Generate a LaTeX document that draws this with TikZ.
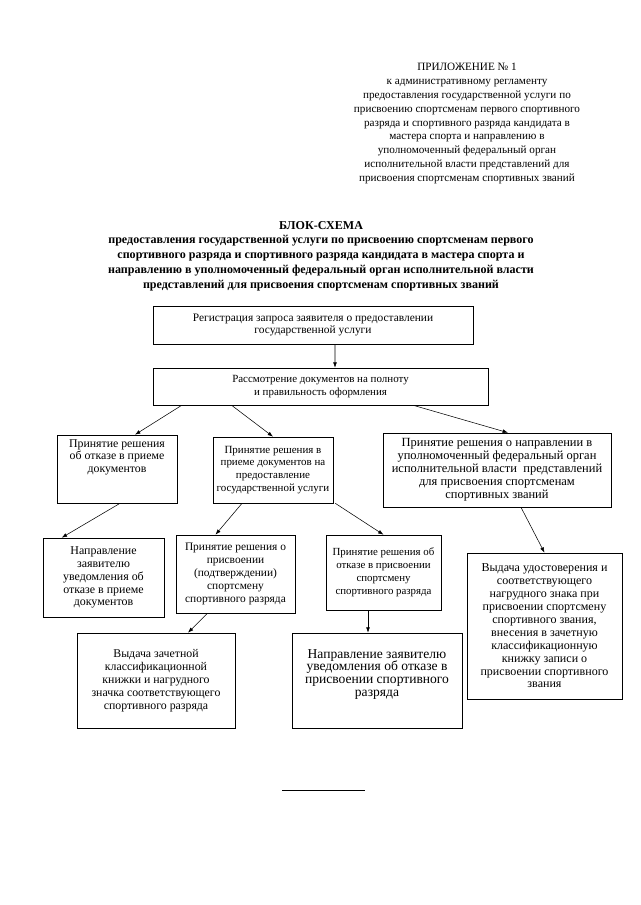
\documentclass[tikz,border=0pt]{standalone}
\usepackage{fontspec}
\setmainfont{Liberation Serif}
\usetikzlibrary{arrows.meta, calc}
\tikzset{%
   % block of the scheme: a plain frame round a fixed-size parbox
   blk/.style={
      draw,
      rectangle,
      inner sep=0pt,
      line width=.6pt
   },
   arr/.style={
      -{Latex[length=5pt,width=3.6pt]},
      line width=.5pt
   },
   hdr/.style={
      align=center,
      inner sep=0pt,
      font=\fontsize{10.4}{12.9}\selectfont
   },
}
% #1 inner position (c or t), #2 font size, #3 width, #4 height, #5 text
\def\bt#1#2#3#4#5{\parbox[c][#4][#1]{#3}{\centering\fontsize{#2}{12}\selectfont #5\par}}

\begin{document}
\begin{tikzpicture}[x=0.9297pt, y=-0.9297pt]
   \useasboundingbox (0,0) rectangle (640,905);
   \node[hdr] (app) at (467,123.5) {ПРИЛОЖЕНИЕ № 1\\к административному регламенту\\
      предоставления государственной услуги по\\присвоению спортсменам первого спортивного\\
      разряда и спортивного разряда кандидата в\\мастера спорта и направлению в\\
      уполномоченный федеральный орган\\исполнительной власти представлений для\\
      присвоения спортсменам спортивных званий};
   \node[hdr, font=\fontsize{11.2}{13.7}\selectfont\bfseries] (title) at (321,256) {БЛОК-СХЕМА\\
      предоставления государственной услуги по присвоению спортсменам первого\\
      спортивного разряда и спортивного разряда кандидата в мастера спорта и\\
      направлению в уполномоченный федеральный орган исполнительной власти\\
      представлений для присвоения спортсменам спортивных званий};

   \node[blk] (reg) at (313,325) {\bt{c}{10.6}{297.5pt}{35.3pt}{Регистрация запроса заявителя о предоставлении\\государственной услуги}};
   \node[blk] (check) at (320.5,386.5) {\bt{c}{10.2}{311.5pt}{34.4pt}{Рассмотрение документов на полноту\\и правильность оформления}};
   \node[blk] (refuse) at (117,469) {\bt{t}{11}{111.6pt}{63.2pt}{\vspace*{4pt}Принятие решения\\об отказе в приеме\\документов}};
   \node[blk] (accept) at (273,470) {\bt{c}{10.2}{111.6pt}{61.4pt}{Принятие решения в\\приеме документов на\\предоставление\\государственной услуги}};
   \node[blk] (direct) at (497,470) {\bt{c}{11.6}{212pt}{68.8pt}{Принятие решения о направлении в\\уполномоченный федеральный орган\\исполнительной власти~ представлений\\для присвоения спортсменам\\спортивных званий}};
   \node[blk] (notify) at (103.5,577.5) {\bt{c}{11.1}{112.5pt}{73.4pt}{Направление\\заявителю\\уведомления об\\отказе в приеме\\документов}};
   \node[blk] (assign) at (235.5,574) {\bt{c}{10.6}{110.6pt}{72.5pt}{Принятие решения о\\присвоении\\(подтверждении)\\спортсмену\\спортивного разряда}};
   \node[blk] (deny) at (383.5,572.5) {\bt{c}{10.1}{107pt}{69.7pt}{Принятие решения об\\отказе в присвоении\\спортсмену\\спортивного разряда}};
   \node[blk] (award) at (544.5,626) {\bt{c}{11.2}{144pt}{135.7pt}{Выдача удостоверения и\\соответствующего\\нагрудного знака при\\присвоении спортсмену\\спортивного звания,\\внесения в зачетную\\классификационную\\книжку записи о\\присвоении спортивного\\звания}};
   \node[blk] (book) at (156,680.5) {\bt{c}{11}{147pt}{88.3pt}{Выдача зачетной\\классификационной\\книжки и нагрудного\\значка соответствующего\\спортивного разряда}};
   \node[blk] (denote) at (377,680.5) {\bt{t}{12.6}{158pt}{88.3pt}{\vspace*{15pt}Направление заявителю\\уведомления об отказе в\\присвоении спортивного\\разряда}};

   \draw[arr] ($(reg.south)+(22,0)$) -- ($(check.north)+(14.5,0)$);
   \draw[arr] ($(check.south west)+(29,0)$) -- ($(refuse.north)+(18,0)$);
   \draw[arr] ($(check.south west)+(79,0)$) -- (accept.north);
   \draw[arr] ($(check.south east)+(-75,0)$) -- ($(direct.north)+(11,0)$);
   \draw[arr] ($(refuse.south)+(3,0)$) -- ($(notify.north west)+(19,0)$);
   \draw[arr] ($(accept.south)+(-31,0)$) -- ($(assign.north)+(-20,0)$);
   \draw[arr] ($(accept.south east)+(2,0)$) -- (deny.north);
   \draw[arr] ($(direct.south)+(24,0)$) -- (award.north);
   \draw[arr] ($(assign.south)+(-28,0)$) -- ($(book.north)+(32,0)$);
   \draw[arr] ($(deny.south)+(-15.5,0)$) -- ($(denote.north)+(-9,0)$);

   % rule under the scheme
   \draw[line width=.6pt] (282,790) -- (365,790);
\end{tikzpicture}
\end{document}
